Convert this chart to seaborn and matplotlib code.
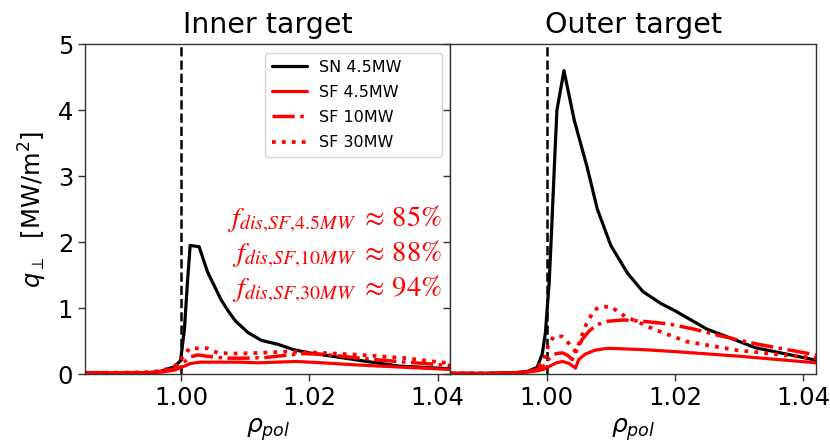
import matplotlib
matplotlib.use("Agg")
import matplotlib.pyplot as plt
import matplotlib.ticker as mticker
import seaborn as sns

# ---- inner target profiles (rho_pol, q_perp in MW/m^2) ----
inner_sn_rho = [0.985, 0.990, 0.995, 0.9968, 0.9989, 0.9999, 1.0005, 1.0010, 1.0014,
                1.0028, 1.0041, 1.0052, 1.0062, 1.0073, 1.0085, 1.0104, 1.0125, 1.0151,
                1.0175, 1.0200, 1.0235, 1.0290, 1.0340, 1.0420]
inner_sn_q = [0.01, 0.01, 0.02, 0.04, 0.11, 0.20, 0.67, 1.42, 1.95,
              1.93, 1.55, 1.33, 1.13, 0.96, 0.80, 0.63, 0.51, 0.45,
              0.37, 0.32, 0.27, 0.19, 0.12, 0.08]

inner_sf45_rho = [0.985, 0.990, 0.995, 0.997, 0.999, 1.000, 1.0015, 1.003, 1.006,
                  1.009, 1.012, 1.015, 1.018, 1.022, 1.027, 1.033, 1.042]
inner_sf45_q = [0.02, 0.02, 0.02, 0.03, 0.06, 0.10, 0.16, 0.18, 0.18,
                0.18, 0.17, 0.18, 0.19, 0.17, 0.14, 0.11, 0.07]

inner_sf10_rho = [0.985, 0.990, 0.995, 0.997, 0.999, 1.000, 1.0015, 1.0026, 1.004,
                  1.007, 1.010, 1.013, 1.016, 1.019, 1.022, 1.026, 1.030, 1.035, 1.042]
inner_sf10_q = [0.02, 0.02, 0.02, 0.04, 0.08, 0.15, 0.26, 0.29, 0.27,
                0.24, 0.24, 0.25, 0.28, 0.31, 0.30, 0.26, 0.22, 0.18, 0.13]

inner_sf30_rho = [0.985, 0.990, 0.995, 0.997, 0.999, 1.000, 1.0013, 1.0041, 1.0057,
                  1.008, 1.012, 1.0166, 1.022, 1.028, 1.035, 1.042]
inner_sf30_q = [0.02, 0.02, 0.03, 0.05, 0.12, 0.22, 0.39, 0.39, 0.32,
                0.31, 0.32, 0.34, 0.32, 0.29, 0.24, 0.16]

# ---- outer target profiles ----
outer_sn_rho = [0.985, 0.990, 0.995, 0.997, 0.9985, 0.9993, 0.9998, 1.0004, 1.0008,
                1.0012, 1.0016, 1.0027, 1.0043, 1.0063, 1.0079, 1.0100, 1.0126, 1.0150,
                1.0178, 1.0200, 1.0250, 1.0280, 1.0325, 1.0380, 1.0420]
outer_sn_q = [0.01, 0.01, 0.02, 0.04, 0.10, 0.30, 0.62, 1.40, 2.25,
              3.15, 4.00, 4.60, 3.85, 3.14, 2.50, 1.95, 1.53, 1.25,
              1.07, 0.96, 0.68, 0.57, 0.40, 0.29, 0.21]

outer_sf45_rho = [0.985, 0.992, 0.996, 0.998, 0.9995, 1.0005, 1.0015, 1.0025, 1.0035,
                  1.0045, 1.0050, 1.0060, 1.0075, 1.0095, 1.0150, 1.0200, 1.0300, 1.0420]
outer_sf45_q = [0.01, 0.01, 0.02, 0.04, 0.07, 0.12, 0.17, 0.19, 0.16,
                0.09, 0.22, 0.30, 0.36, 0.39, 0.37, 0.34, 0.27, 0.17]

outer_sf10_rho = [0.985, 0.992, 0.996, 0.998, 0.9995, 1.0005, 1.0015, 1.0025, 1.0033,
                  1.0040, 1.0047, 1.0055, 1.0066, 1.0079, 1.0095, 1.0120, 1.0150, 1.0190,
                  1.0230, 1.0270, 1.0330, 1.0420]
outer_sf10_q = [0.01, 0.01, 0.02, 0.05, 0.12, 0.25, 0.31, 0.32, 0.28,
                0.22, 0.36, 0.52, 0.65, 0.75, 0.80, 0.82, 0.80, 0.76,
                0.68, 0.58, 0.45, 0.29]

outer_sf30_rho = [0.985, 0.992, 0.996, 0.998, 0.9995, 1.0003, 1.0011, 1.0024, 1.0035,
                  1.0045, 1.0052, 1.0061, 1.0074, 1.0084, 1.0100, 1.0123, 1.0149, 1.0167,
                  1.0219, 1.0297, 1.0420]
outer_sf30_q = [0.01, 0.01, 0.02, 0.06, 0.20, 0.44, 0.57, 0.57, 0.46,
                0.34, 0.50, 0.74, 0.97, 1.02, 1.02, 0.87, 0.76, 0.68,
                0.49, 0.36, 0.24]

panel_titles = ["Inner target", "Outer target"]
case_labels = ["SN 4.5MW", "SF 4.5MW", "SF 10MW", "SF 30MW"]
fdis_labels = [r"$f_{dis{,}SF{,}\mathit{4.5}MW}\ \approx\, 85\%$",
               r"$f_{dis{,}SF{,}\mathit{10}MW}\ \approx\, 88\%$",
               r"$f_{dis{,}SF{,}\mathit{30}MW}\ \approx\, 94\%$"]
x_ticks = [1.00, 1.02, 1.04]
y_ticks = [0, 1, 2, 3, 4, 5]

sns.set_style("ticks")
plt.rcParams["font.family"] = ["DejaVu Sans"]
plt.rcParams.update({
    "text.color": "black",
    "axes.labelcolor": "black",
    "xtick.color": "black",
    "ytick.color": "black",
})

case_styles = [
    dict(color="black", linestyle="-", lw=2.3),
    dict(color="red", linestyle="-", lw=2.3),
    dict(color="red", linestyle="-.", lw=2.5),
    dict(color="red", linestyle=":", lw=2.7),
]

panels = [
    [(inner_sn_rho, inner_sn_q), (inner_sf45_rho, inner_sf45_q),
     (inner_sf10_rho, inner_sf10_q), (inner_sf30_rho, inner_sf30_q)],
    [(outer_sn_rho, outer_sn_q), (outer_sf45_rho, outer_sf45_q),
     (outer_sf10_rho, outer_sf10_q), (outer_sf30_rho, outer_sf30_q)],
]

fig, axes = plt.subplots(1, 2, sharey=True, figsize=(8.3, 4.46), dpi=100)
fig.subplots_adjust(left=0.1024, right=0.9831, top=0.9007, bottom=0.1614, wspace=0)

for ax, title, series in zip(axes, panel_titles, panels):
    ax.axvline(1.0, color="black", linestyle="--", lw=1.8, zorder=1)
    for (rho, q), label, style in zip(series, case_labels, case_styles):
        sns.lineplot(x=rho, y=q, ax=ax, label=label, legend=False, **style)
    ax.set_xlim(0.985, 1.042)
    ax.set_ylim(0, 5)
    ax.set_xticks(x_ticks)
    ax.set_yticks(y_ticks)
    ax.xaxis.set_major_formatter(mticker.FormatStrFormatter("%.2f"))
    ax.tick_params(direction="out", length=5, width=1, labelsize=17.5,
                   colors="#333333", labelcolor="black")
    for sp in ax.spines.values():
        sp.set_visible(True)
        sp.set_linewidth(1.0)
        sp.set_color("#333333")
    ax.set_title(title, fontsize=20.5, pad=8, color="black")
    ax.set_xlabel(r"$\rho_{pol}$", fontsize=18, labelpad=5)

axes[0].set_ylabel(r"$q_\perp$  [MW/m$^2$]", fontsize=17.5, labelpad=6)
axes[1].set_ylabel("")

axes[0].legend(loc="upper left", bbox_to_anchor=(0.493, 0.0, 0.485, 0.973),
               mode="expand", borderaxespad=0, fontsize=11.5, handlelength=2.2,
               handletextpad=0.75, labelspacing=0.64, borderpad=0.4)

for label, ypos in zip(fdis_labels, [0.446, 0.340, 0.234]):
    axes[0].text(0.977, ypos, label, transform=axes[0].transAxes, ha="right",
                 va="baseline", color="red", fontsize=20.5, math_fontfamily="stix")

fig.savefig("out.png", dpi=100)
